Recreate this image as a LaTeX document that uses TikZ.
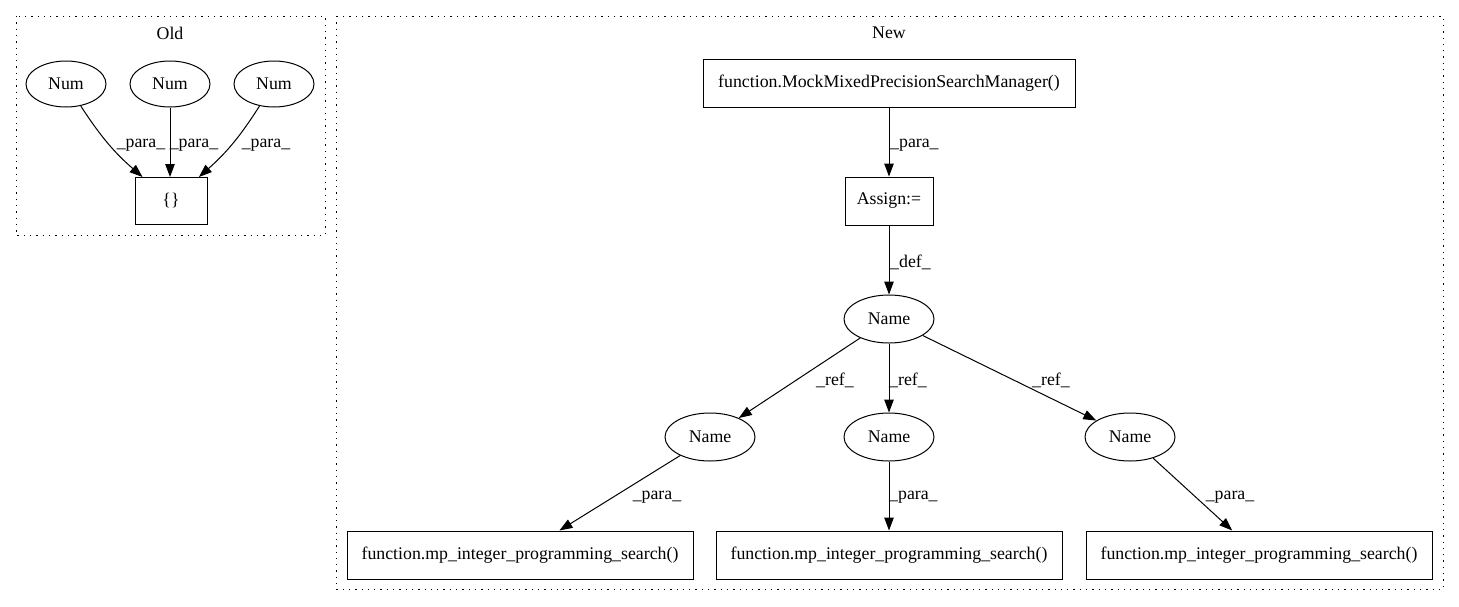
\documentclass[tikz,border=0pt]{standalone}
\usepackage{fontspec}
\setmainfont{Liberation Serif}
\usetikzlibrary{shapes.geometric,arrows.meta}

\begin{document}
\begin{tikzpicture}[x=1pt, y=1pt, font=\fontsize{17.8}{20}\selectfont]
  \tikzset{box/.style={draw, rectangle, line width=1pt, minimum height=48pt, inner sep=0pt},
           oval/.style={draw, ellipse, line width=1pt, minimum width=90pt, minimum height=48pt, inner sep=0pt},
           edge/.style={-{Triangle[length=13pt,width=9.5pt]}, line width=1pt},
           lbl/.style={inner sep=0pt},
           cluster/.style={line width=1pt, dash pattern=on 1.3pt off 5pt}}
  \useasboundingbox (0,0) rectangle (1459,-606);
  \draw[cluster] (16,-16) rectangle (325,-235);
  \draw[cluster] (336,-16) rectangle (1443,-589);
  \node[lbl] (old) at (170,-33) {Old};
  \node[lbl] (new) at (889,-33) {New};

  \node[oval, minimum width=80pt, minimum height=46pt] (num1) at (66,-84) {Num};
  \node[oval, minimum width=80pt, minimum height=46pt] (num2) at (170,-84) {Num};
  \node[oval, minimum width=80pt, minimum height=46pt] (num3) at (274,-84) {Num};
  \node[box, minimum width=72pt, minimum height=47pt] (braces) at (171,-201) {\{\}};
  \draw[edge] (num1) to[bend right=8] (braces);
  \draw[edge] (num2) -- (num2 |- braces.north);
  \draw[edge] (num3) to[bend left=8] (braces);
  \node[lbl] (para1) at (141,-145) {\_para\_};
  \node[lbl] (para2) at (194,-145) {\_para\_};
  \node[lbl] (para3) at (266,-145) {\_para\_};

  \node[box, minimum width=372pt] (mock) at (889,-83) {function.MockMixedPrecisionSearchManager()};
  \node[box, minimum width=88pt] (assign) at (889,-201) {Assign:=};
  \node[oval] (name) at (889,-319) {Name};
  \node[oval] (namea) at (710,-437) {Name};
  \node[oval] (nameb) at (889,-437) {Name};
  \node[oval] (namec) at (1130,-437) {Name};
  \node[box, minimum width=346pt] (searcha) at (520,-555) {function.mp\_integer\_programming\_search()};
  \node[box, minimum width=346pt] (searchb) at (889,-555) {function.mp\_integer\_programming\_search()};
  \node[box, minimum width=346pt] (searchc) at (1259,-555) {function.mp\_integer\_programming\_search()};

  \draw[edge] (mock) -- (assign);
  \draw[edge] (assign) -- (name);
  \draw[edge] (name) -- (namea);
  \draw[edge] (name) -- (nameb);
  \draw[edge] (name) -- (namec);
  \draw[edge] (namea) -- (searcha);
  \draw[edge] (nameb) -- (searchb);
  \draw[edge] (namec) -- (searchc);
  \node[lbl, anchor=west] (para4) at (890,-145) {\_para\_};
  \node[lbl, anchor=west] (def) at (890,-262) {\_def\_};
  \node[lbl] (refa) at (835,-380) {\_ref\_};
  \node[lbl, anchor=west] (refb) at (889,-380) {\_ref\_};
  \node[lbl] (refc) at (1051,-380) {\_ref\_};
  \node[lbl] (para5) at (657,-497) {\_para\_};
  \node[lbl, anchor=west] (para6) at (889,-497) {\_para\_};
  \node[lbl] (para7) at (1230,-497) {\_para\_};
\end{tikzpicture}
\end{document}
